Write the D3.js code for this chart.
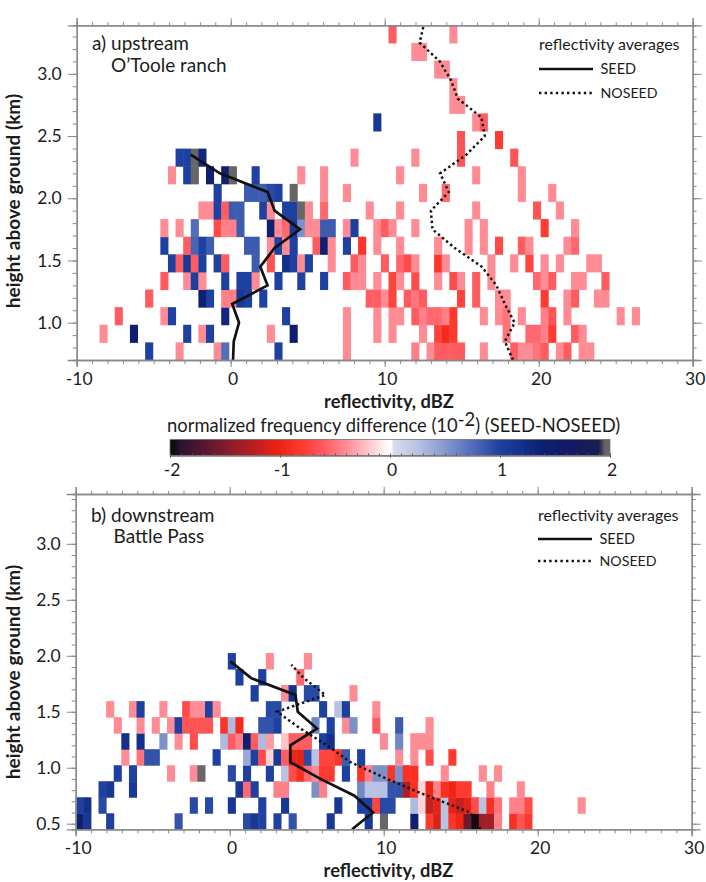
<!DOCTYPE html>
<html><head><meta charset="utf-8">
<script src="https://cdnjs.cloudflare.com/ajax/libs/d3/7.8.5/d3.min.js"></script>
<style>html,body{margin:0;padding:0;background:#fff}svg{display:block}text{font-family:Lato,"Noto Sans",sans-serif;fill:#1c1c1c}</style>
</head><body><svg id="c" width="706" height="882"></svg>
<script>
const P=-0.4;
// frequency-difference cells: row index -> [bin index, value]
const topCells=[
[[9,1],[13,P],[18,P],[19,.75],[26,1],[35,P],[44,-.45],[46,P],[47,-.6],[48,-.6],[49,-.6],[50,-.6],[53,P],[57,-.6],[58,P],[59,P],[60,-.5],[61,-.6],[63,P],[64,-.6],[66,P],[67,P]],
[[3,P],[7,1.5],[14,1],[16,P],[17,1],[25,P],[28,1.5],[35,P],[39,P],[41,P],[45,P],[47,-.75],[48,-.95],[49,-.8],[56,-.5],[59,-.55],[60,-.55],[61,-.45],[62,-.8],[65,-.6],[66,P]],
[[5,-.6],[11,P],[12,1],[19,1.3],[27,1],[35,P],[39,P],[41,P],[42,P],[44,-.6],[45,-.45],[46,-.55],[47,-.55],[48,-.45],[49,-.8],[53,P],[55,P],[56,-.5],[58,P],[61,-.45],[62,-.65],[64,P],[71,P],[73,P]],
[[9,-.6],[16,1.4],[17,1],[19,-.45],[20,-.45],[21,1.1],[22,1],[24,1],[38,-.6],[39,-.6],[40,P],[41,-.75],[43,-.6],[44,-.5],[45,-.6],[50,-.75],[52,-.6],[55,P],[56,P],[61,-.8],[64,P],[65,-.6],[68,P],[69,P]],
[[11,-.6],[14,P],[15,1],[16,P],[19,1],[21,1],[22,1],[23,P],[26,1],[29,1],[32,1],[35,-.6],[36,P],[37,P],[39,P],[41,-.75],[42,P],[44,-.7],[47,P],[49,-.7],[50,P],[52,-.6],[54,P],[60,-.55],[61,P],[62,-.6],[65,P],[66,P],[69,-.6]],
[[12,1],[13,-.6],[14,1.1],[15,-.6],[16,1],[18,1],[19,-.6],[23,.85],[25,-.65],[27,1.2],[28,1],[29,P],[30,1],[33,P],[36,-.6],[37,P],[40,-.6],[42,-.55],[43,-.7],[44,P],[47,-.85],[48,P],[54,P],[57,P],[59,-.75],[61,P],[63,P],[67,P],[68,P]],
[[11,1],[14,-.6],[15,.8],[16,1],[17,.85],[22,.85],[23,.85],[25,P],[26,1],[27,P],[28,1],[31,-.6],[32,1.4],[33,P],[35,1],[37,-.85],[39,P],[42,P],[47,P],[51,P],[53,P],[55,-.7],[58,-.6],[59,P],[64,P],[65,-.55]],
[[11,P],[13,P],[15,.75],[18,-.7],[19,-.45],[20,-.45],[21,.85],[25,1.4],[26,P],[27,-.55],[28,1.1],[29,.55],[30,P],[31,P],[32,.85],[33,.85],[35,P],[36,1],[39,P],[40,-.6],[41,P],[44,P],[51,P],[53,P],[61,-.8],[65,P]],
[[16,P],[17,P],[18,1],[19,-.6],[20,.85],[21,.85],[24,1],[25,P],[27,1],[28,1],[29,2],[30,P],[32,-.55],[38,P],[42,P],[52,P],[60,-.65],[63,P]],
[[18,1],[22,.85],[23,.85],[24,.85],[25,.95],[26,1],[28,2],[32,P],[35,P],[45,P],[48,-.55],[58,P],[62,P]],
[[12,P],[14,1],[15,2],[17,1.4],[19,1.4],[20,2],[23,1],[29,P],[32,P],[42,P],[52,P],[58,P]],
[[13,1],[14,1],[15,2],[16,1.3],[36,P],[44,P],[50,-.65],[57,-.65]],
[[50,-.65],[55,-.8]],
[[39,1.1],[52,P],[53,-.6]],
[[49,P],[50,P]],
[[49,P]],
[[47,P],[48,P]],
[[44,P],[45,P]],
[[41,-.6],[49,P]]
];
const bottomCells=[
[[0,1.4],[1,1.1],[4,1],[13,.9],[22,.95],[23,1.1],[24,1],[26,1],[28,.9],[33,1.1],[38,1.1],[40,2],[44,1.4],[46,-.8],[47,-1.1],[48,.25],[49,-.85],[50,-1],[51,-1.6],[52,-1.98],[53,-1.35],[54,-1.35],[55,-.45],[57,-.9],[58,-.65],[59,-.8]],
[[0,1],[1,1.2],[3,.95],[15,.95],[17,.95],[20,1.1],[24,1],[27,1.1],[34,1.1],[37,1],[38,1],[39,-.75],[40,.95],[41,.95],[44,.3],[45,-.15],[46,-1.2],[47,-1.05],[48,.25],[49,-1.05],[50,-1.2],[51,-1.05],[52,-.7],[53,.25],[54,-.9],[55,-.5],[57,-.45],[58,-.45],[59,-.7],[66,P]],
[[3,1],[4,1.1],[7,1.1],[21,1.1],[22,-.55],[23,1],[26,-.45],[27,-.45],[31,.55],[32,-.45],[37,.6],[38,.25],[39,.25],[40,.25],[41,.9],[42,.9],[43,-1.3],[44,-.9],[45,-.15],[46,-1],[47,-.45],[48,-.9],[49,-1],[50,-.8],[51,-.8],[54,-.45],[58,P]],
[[5,1],[7,1],[12,P],[15,P],[16,2],[20,.95],[22,1],[25,1],[27,.25],[28,-.7],[29,-.9],[30,-.55],[31,P],[32,-.8],[33,-.8],[35,1],[37,-.85],[38,-.45],[39,.55],[40,.55],[41,-.85],[42,.55],[43,-.9],[44,-.9],[48,P],[53,P],[55,P]],
[[6,P],[8,-.5],[9,.9],[10,.9],[18,1],[22,.4],[23,1],[24,-.7],[25,-.15],[26,1.1],[27,-.6],[28,-1],[29,-1.05],[30,.95],[31,.25],[32,-.75],[33,-.75],[34,-.85],[35,.85],[37,1],[42,P],[44,P],[46,-.7],[49,-.8]],
[[6,1.2],[8,1.2],[11,.55],[13,P],[15,-.7],[19,.3],[20,-.6],[21,-.45],[22,1.4],[23,-.6],[24,.3],[25,-.35],[27,-.2],[28,-.6],[29,-.6],[30,-.6],[32,1],[33,1.2],[40,P],[42,.6],[44,P],[45,P],[46,P]],
[[5,P],[8,P],[10,P],[12,P],[13,1],[14,-.65],[15,-.65],[16,-.65],[17,-.65],[19,-.85],[20,.3],[21,-.95],[24,.9],[25,.9],[26,1],[31,.6],[33,1],[35,P],[36,.55],[39,-.6],[42,.85],[46,P]],
[[4,P],[7,P],[8,1],[11,P],[14,-.7],[15,P],[16,P],[17,1],[18,P],[25,.95],[26,.95],[32,1],[34,.25],[35,1],[39,P]],
[[23,1],[27,P],[28,1.2],[30,.95],[31,.95],[36,P]],
[[21,1],[24,1],[29,-.55]],
[[20,1],[25,P],[30,P]]
];
const topSeedH=[0.7,0.85,1.0,1.15,1.3,1.45,1.6,1.75,1.9,2.05,2.2,2.35];
const topSeedX=[0.15,0.2,0.54,0.1,2.39,1.92,2.85,4.5,2.85,2.4,-0.7,-2.6];
const topNoseedH=[0.7,0.85,1.0,1.15,1.3,1.45,1.6,1.75,1.9,2.05,2.2,2.35,2.5,2.65,2.8,2.95,3.1,3.25,3.39];
const topNoseedX=[18.33,17.8,18.44,17.8,17.25,16.3,14.55,13.1,13.0,14.16,13.6,15.3,16.5,16.28,14.75,14.3,13.57,12.27,12.53];
const botSeedH=[0.45,0.6,0.75,0.9,1.05,1.2,1.35,1.5,1.65,1.8,1.95];
const botSeedX=[7.95,9.31,8.1,5.89,3.94,3.94,5.67,4.42,4.27,1.39,0.05];
const botNoseedH=[0.45,0.6,0.75,0.9,1.05,1.2,1.35,1.5,1.65,1.8,1.92];
const botNoseedX=[16.28,15.63,12.82,10.22,7.84,6.32,4.59,3.08,6.21,4.81,4.0];
const xTicks=[-10,0,10,20,30];
const topYTicks=[1.0,1.5,2.0,2.5,3.0];
const botYTicks=[0.5,1.0,1.5,2.0,2.5,3.0];
const cbTicks=[-2,-1,0,1,2];
const cbStops=[-2,-1.95,-1.9,-1.5,-1.3,-1,-.8,-.6,-.4,-.15,-.015,.015,.03,.25,.55,.85,1,1.2,1.4,1.6,1.9,1.955,2];
const cbColors=["#0a0a0a","#141014","#2c1236","#801c2c","#ac1f24","#f02414","#ff3a30","#ff5c62","#ff8c94","#ffd4d8","#ffffff","#ffffff","#d8dcee","#b8c2e2","#7c90ca","#3d5cb0","#1e40a0","#14308c","#102070","#101a68","#1a1f50","#666666","#666666"];
const color=d3.scaleLinear().domain(cbStops).range(cbColors).clamp(true);
const svg=d3.select("#c");
const axC="#888";
const intFmt=d=>String(d);

function panel(o){
  const x=d3.scaleLinear().domain([-10,30]).range([o.l,o.r]);
  const y=d3.scaleLinear().domain(o.yd).range([o.b,o.t]);
  const g=svg.append("g");
  const bw=40/81, rh=o.rh;
  o.cells.forEach((row,r)=>row.forEach(([i,v])=>{
    const x0=-10+i*bw, h0=o.yd[0]+r*rh;
    g.append("rect").attr("x",x(x0)).attr("width",x(x0+bw)-x(x0)+.5)
     .attr("y",y(h0+rh)).attr("height",y(h0)-y(h0+rh)+.5).attr("fill",color(v));
  }));
  const ln=d3.line().x(d=>x(d[0])).y(d=>y(d[1]));
  g.append("path").attr("d",ln(o.noseedX.map((v,i)=>[v,o.noseedH[i]]))).attr("fill","none").attr("stroke","#111").attr("stroke-width",2.5).attr("stroke-dasharray","2.4 2.9");
  g.append("path").attr("d",ln(o.seedX.map((v,i)=>[v,o.seedH[i]]))).attr("fill","none").attr("stroke","#111").attr("stroke-width",2.7);
  const minorX=d3.range(-10,30.01,1), minorY=d3.range(Math.ceil(o.yd[0]*10)/10,o.yd[1],0.1);
  const axes=[
    [d3.axisBottom(x).tickValues(minorX).tickSize(4).tickFormat(""),0,o.b,0,0],
    [d3.axisBottom(x).tickValues(o.xTicks).tickSize(7).tickFormat(intFmt),0,o.b,2,2.5],
    [d3.axisTop(x).tickValues(minorX).tickSize(3).tickFormat(""),0,o.t,0,0],
    [d3.axisTop(x).tickValues(o.xTicks).tickSize(7).tickFormat(""),0,o.t,0,0],
    [d3.axisLeft(y).tickValues(minorY).tickSize(4).tickFormat(""),o.l,0,0,0],
    [d3.axisLeft(y).tickValues(o.yTicks).tickSize(9).tickFormat(d3.format(".1f")),o.l,0,-3,0],
    [d3.axisRight(y).tickValues(minorY).tickSize(4).tickFormat(""),o.r,0,0,0],
    [d3.axisRight(y).tickValues(o.yTicks).tickSize(9).tickFormat(""),o.r,0,0,0]
  ];
  axes.forEach(([a,dx,dy,tx,ty])=>{
    const s=svg.append("g").attr("transform",`translate(${dx},${dy})`).call(a);
    s.selectAll("path.domain").attr("stroke",axC).attr("stroke-width",1.3);
    s.selectAll("line").attr("stroke",axC).attr("stroke-width",1);
    s.selectAll("text").attr("font-size",17.5).attr("font-family","Lato").attr("fill","#1c1c1c").attr("transform",`translate(${tx},${ty})`);
  });
  const T=(t,px,py,sz,w,anc)=>svg.append("text").attr("x",px).attr("y",py).attr("font-size",sz).attr("font-weight",w||400).attr("text-anchor",anc||"start").text(t);
  T(o.label1,o.lbl[0],o.lbl[1],19);
  T(o.label2,o.lbl[2],o.lbl[3],19);
  T("reflectivity averages",o.lg[0],o.lg[1],16);
  svg.append("line").attr("x1",o.lg[0]).attr("x2",o.lg[0]+54).attr("y1",o.lg[2]).attr("y2",o.lg[2]).attr("stroke","#111").attr("stroke-width",2.4);
  svg.append("line").attr("x1",o.lg[0]).attr("x2",o.lg[0]+54).attr("y1",o.lg[3]).attr("y2",o.lg[3]).attr("stroke","#111").attr("stroke-width",2.4).attr("stroke-dasharray","2.4 3.2");
  T("SEED",o.lg[0]+61.5,o.lg[2]+5,14.5);
  T("NOSEED",o.lg[0]+61.5,o.lg[3]+5,14.2);
  T("reflectivity, dBZ",o.xt[0],o.xt[1],18.3,700,"middle");
  svg.append("text").attr("transform",`translate(${o.yt[0]},${o.yt[1]}) rotate(-90)`).attr("font-size",19).attr("font-weight",700).attr("text-anchor","middle").text("height above ground (km)");
}
panel({l:76.7,r:692.7,t:25.3,b:360,yd:[0.7,3.39],rh:(3.39-0.7)/19,cells:topCells,seedH:topSeedH,seedX:topSeedX,noseedH:topNoseedH,noseedX:topNoseedX,xTicks,yTicks:topYTicks,label1:"a) upstream",label2:"O\u2019Toole ranch",lbl:[92,50,111,71.5],lg:[539,50,69,93],xt:[389,407.5],yt:[20,201]});
panel({l:75.7,r:691.7,t:494,b:829.3,yd:[0.45,3.445],rh:16/111.8,cells:bottomCells,seedH:botSeedH,seedX:botSeedX,noseedH:botNoseedH,noseedX:botNoseedX,xTicks,yTicks:botYTicks,label1:"b) downstream",label2:"Battle Pass",lbl:[91,521.7,113.5,543.3],lg:[538,521,539,561],xt:[388.5,876.5],yt:[20,672]});

// colour bar
const cx=d3.scaleLinear().domain([-2,2]).range([170,610]);
const cg=svg.append("g");
d3.range(-2,2,0.01).forEach(v=>cg.append("rect").attr("x",cx(v)).attr("y",439.5).attr("width",Math.min(cx(v+.01)-cx(v)+1,610-cx(v))).attr("height",16).attr("fill",color(v+.005)));
cg.append("rect").attr("x",170).attr("y",439.5).attr("width",440).attr("height",16).attr("fill","none").attr("stroke","#777").attr("stroke-width",.8);
const ca1=svg.append("g").attr("transform","translate(0,455.5)").call(d3.axisBottom(cx).tickValues(d3.range(-2,2.01,.1)).tickSize(-2).tickFormat(""));
const ca2=svg.append("g").attr("transform","translate(0,455.5)").call(d3.axisBottom(cx).tickValues(cbTicks).tickSize(2).tickFormat(intFmt));
[ca1,ca2].forEach(s=>{s.select("path.domain").attr("stroke","#777");s.selectAll("line").attr("stroke","#555");s.selectAll("text").attr("font-size",17.5).attr("font-family","Lato").attr("fill","#1c1c1c").attr("dy","0.9em").attr("transform","translate(1.5,0)");});
const ct=svg.append("text").attr("x",167).attr("y",432).attr("font-size",18.4).attr("fill","#333");
ct.append("tspan").text("normalized frequency difference (10");
ct.append("tspan").attr("dy",-6).text("-2");
ct.append("tspan").attr("dy",6).text(") (SEED-NOSEED)");
</script></body></html>
